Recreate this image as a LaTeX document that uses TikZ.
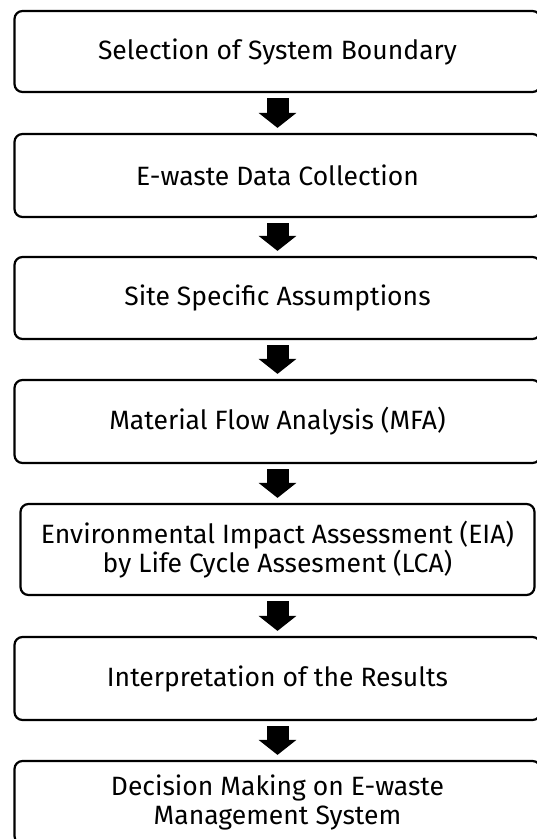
\documentclass[tikz,border=0pt]{standalone}
\usepackage{fontspec}
\setmainfont{Fira Sans}
\usetikzlibrary{arrows.meta}
\begin{document}
\begin{tikzpicture}[x=1pt,y=-1pt,
  stepbox/.style 2 args={draw, line width=2.2pt, rounded corners=8pt,
    minimum width=#1, minimum height=#2, align=center, inner sep=0pt,
    font=\fontsize{26.5}{28.5}\selectfont},
  flow/.style={line width=22pt, -{Triangle[width=37pt,length=15pt]},
    shorten <=5pt, shorten >=5pt}]
\path[use as bounding box] (0,0) rectangle (537,839);
\clip (0,0) rectangle (537,839);
\node[stepbox={526pt}{81pt}] (b1) at (277.5,51.5) {Selection of System Boundary};
\node[stepbox={526pt}{83pt}] (b2) at (277.5,175.5) {E-waste Data Collection};
\node[stepbox={526pt}{82pt}] (b3) at (277.5,298) {Site Specific Assumptions};
\node[stepbox={526pt}{83pt}] (b4) at (277.5,421.5) {Material Flow Analysis (MFA)};
\node[stepbox={514pt}{91pt}] (b5) at (277.5,549.5) {Environmental Impact Assessment (EIA)\\by Life Cycle Assesment (LCA)};
\node[stepbox={526pt}{83pt}] (b6) at (277.5,678.5) {Interpretation of the Results};
\node[stepbox={526pt}{83pt}] (b7) at (277.5,802.5) {Decision Making on E-waste\\Management System};
\draw[flow] (b1) -- (b2);
\draw[flow] (b2) -- (b3);
\draw[flow] (b3) -- (b4);
\draw[flow] (b4) -- (b5);
\draw[flow] (b5) -- (b6);
\draw[flow] (b6) -- (b7);
\end{tikzpicture}
\end{document}
